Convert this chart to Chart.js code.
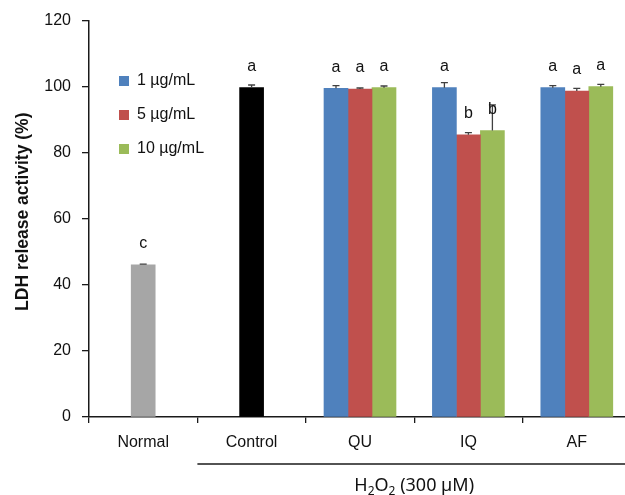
<!DOCTYPE html>
<html lang="en">
<head>
<meta charset="UTF-8">
<title>LDH release activity</title>
<script src="https://cdn.jsdelivr.net/npm/chart.js"></script>
<style>
  body { margin: 0; background: #fff; }
  #wrap { width: 625px; height: 495px; }
</style>
</head>
<body>
<div id="wrap"><canvas id="ldhChart" width="625" height="495"></canvas></div>
<script>
// groups on the x axis
const groups = ['Normal', 'Control', 'QU', 'IQ', 'AF'];
const concLabels = ['1 µg/mL', '5 µg/mL', '10 µg/mL'];
const yTicks = [0, 20, 40, 60, 80, 100, 120];

// Normal / Control bars
const baseValues = [46.1, 99.8, null, null, null];
const baseErrors = [0.2, 0.8, null, null, null];
const baseLetters = ['c', 'a', '', '', ''];

// treated groups, one array per concentration
const conc1Values = [null, null, 99.6, 99.8, 99.8];
const conc1Errors = [null, null, 0.8, 1.5, 0.6];
const conc1Letters = ['', '', 'a', 'a', 'a'];

const conc5Values = [null, null, 99.4, 85.5, 98.8];
const conc5Errors = [null, null, 0.3, 0.7, 0.8];
const conc5Letters = ['', '', 'a', 'b', 'a'];

const conc10Values = [null, null, 99.8, 86.8, 100.1];
const conc10Errors = [null, null, 0.5, 7.8, 0.7];
const conc10Letters = ['', '', 'a', 'b', 'a'];

const FONT = "'Liberation Sans', Arial, sans-serif";

// widen the x axis a little past the canvas edge, like the original figure
const stretchRight = {
    id: 'stretchRight',
    afterLayout(chart) {
        const x = chart.scales.x;
        const extra = 6;
        x.right += extra;
        x.width += extra;
        x.configure();
        chart.chartArea.right += extra;
        chart.chartArea.width += extra;

        // legend sits inside the plot, upper left
        const lg = chart.legend;
        const area = chart.chartArea;
        lg.left = area.left + 12;
        lg.top = area.top + 34;
        lg.right = area.right;
        lg.bottom = area.bottom;
    }
};

// error bars (upper half only)
const errorBars = {
    id: 'errorBars',
    afterDatasetsDraw(chart) {
        const ctx = chart.ctx;
        const y = chart.scales.y;
        ctx.save();
        ctx.strokeStyle = '#404040';
        ctx.lineWidth = 1.3;
        chart.data.datasets.forEach((ds, i) => {
            const meta = chart.getDatasetMeta(i);
            meta.data.forEach((bar, j) => {
                const v = ds.data[j];
                const e = ds.errors[j];
                if (v == null || e == null) return;
                const top = y.getPixelForValue(v + e);
                ctx.beginPath();
                ctx.moveTo(bar.x, bar.y);
                ctx.lineTo(bar.x, top);
                ctx.moveTo(bar.x - 3.5, top);
                ctx.lineTo(bar.x + 3.5, top);
                ctx.stroke();
            });
        });
        ctx.restore();
    }
};

// significance letters above bars
const letterLabels = {
    id: 'letterLabels',
    afterDatasetsDraw(chart) {
        const ctx = chart.ctx;
        ctx.save();
        ctx.font = '16px ' + FONT;
        ctx.fillStyle = '#111';
        ctx.textAlign = 'center';
        ctx.textBaseline = 'middle';
        chart.data.datasets.forEach((ds, i) => {
            const meta = chart.getDatasetMeta(i);
            meta.data.forEach((bar, j) => {
                const t = ds.letters[j];
                if (!t || ds.data[j] == null) return;
                ctx.fillText(t, bar.x, bar.y - 21);
            });
        });
        ctx.restore();
    }
};

// underline + H2O2 label for the treated groups
const treatmentBracket = {
    id: 'treatmentBracket',
    afterDraw(chart) {
        const x = chart.scales.x;
        const ctx = chart.ctx;
        const from = x.getPixelForValue(0.5);
        const to = x.getPixelForValue(groups.length - 0.5);
        const lineY = x.top + 47;
        const textY = x.top + 74;
        ctx.save();
        ctx.strokeStyle = '#1a1a1a';
        ctx.lineWidth = 1.4;
        ctx.beginPath();
        ctx.moveTo(from, lineY);
        ctx.lineTo(to, lineY);
        ctx.stroke();

        const parts = [
            { t: 'H', size: 18, dy: 0 },
            { t: '2', size: 12, dy: 4 },
            { t: 'O', size: 18, dy: 0 },
            { t: '2', size: 12, dy: 4 },
            { t: ' (300 µM)', size: 18, dy: 0 }
        ];
        let total = 0;
        parts.forEach(p => {
            ctx.font = p.size + "px 'Noto Sans', sans-serif";
            p.w = ctx.measureText(p.t).width;
            total += p.w;
        });
        let cx = (from + to) / 2 - total / 2;
        ctx.fillStyle = '#111';
        ctx.textBaseline = 'alphabetic';
        ctx.textAlign = 'left';
        parts.forEach(p => {
            ctx.font = p.size + "px 'Noto Sans', sans-serif";
            ctx.fillText(p.t, cx, textY + p.dy);
            cx += p.w;
        });
        ctx.restore();
    }
};

const ctx = document.getElementById('ldhChart').getContext('2d');
new Chart(ctx, {
    type: 'bar',
    data: {
        labels: groups,
        datasets: [
            { label: 'base', data: baseValues, errors: baseErrors, letters: baseLetters,
              backgroundColor: ['#A6A6A6', '#000000', '#000000', '#000000', '#000000'] },
            { label: concLabels[0], data: conc1Values, errors: conc1Errors, letters: conc1Letters,
              backgroundColor: '#4F81BD' },
            { label: concLabels[1], data: conc5Values, errors: conc5Errors, letters: conc5Letters,
              backgroundColor: '#C0504D' },
            { label: concLabels[2], data: conc10Values, errors: conc10Errors, letters: conc10Letters,
              backgroundColor: '#9BBB59' }
        ]
    },
    options: {
        responsive: false,
        animation: false,
        devicePixelRatio: 1,
        skipNull: true,
        barThickness: 24,
        borderWidth: 0,
        layout: { padding: { top: 21, left: 0, right: 0, bottom: 0 } },
        plugins: {
            legend: {
                position: 'chartArea',
                align: 'start',
                labels: {
                    filter: item => item.datasetIndex > 0,
                    boxWidth: 10,
                    boxHeight: 10,
                    padding: 18,
                    color: '#111',
                    font: { size: 16, family: FONT }
                }
            },
            tooltip: { enabled: false }
        },
        scales: {
            x: {
                offset: true,
                border: { color: '#1a1a1a', width: 1.5 },
                grid: { drawOnChartArea: false, offset: true, tickLength: 6, color: '#1a1a1a', lineWidth: 1.3 },
                ticks: { color: '#111', padding: 10, font: { size: 16, family: FONT } },
                afterFit: s => { s.height = 78; }
            },
            y: {
                min: 0,
                max: 120,
                afterBuildTicks: s => { s.ticks = yTicks.map(v => ({ value: v })); },
                border: { color: '#1a1a1a', width: 1.5 },
                grid: { drawOnChartArea: false, tickLength: 7, color: '#1a1a1a', lineWidth: 1.3 },
                ticks: { color: '#111', padding: 11, font: { size: 16, family: FONT } },
                title: {
                    display: true,
                    // leading spaces nudge the rotated title up a little
                    text: '   LDH release activity (%)',
                    color: '#111',
                    font: { size: 17.5, weight: 'bold', family: FONT },
                    padding: { top: 13, bottom: 0 }
                },
                afterFit: s => { s.width = 89; }
            }
        }
    },
    plugins: [stretchRight, errorBars, letterLabels, treatmentBracket]
});
</script>
</body>
</html>
